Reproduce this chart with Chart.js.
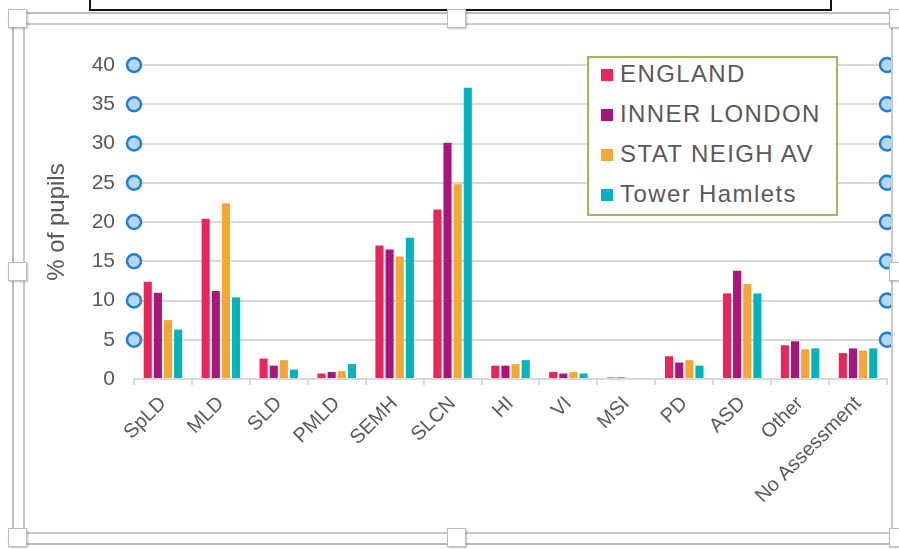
<!DOCTYPE html>
<html>
<head>
<meta charset="utf-8">
<script src="https://cdn.jsdelivr.net/npm/chart.js@4.4.0/dist/chart.umd.min.js"></script>
<style>
  body { margin:0; background:#fff; width:899px; height:549px; position:relative; overflow:hidden; font-family:"Liberation Sans", Arial, sans-serif; }
  .box { position:absolute; box-sizing:border-box; }
  #topbox { left:89px; top:-4px; width:743px; height:15px; border:2px solid #111; }
  #outer { left:12px; top:12px; width:895px; height:533px; border:2px solid #bdbdbd; }
  #inner { left:23px; top:23px; width:870px; height:511px; border:2px solid #c9c9c9; }
  #wrap { position:absolute; left:25px; top:25px; width:866px; height:506px; }
  .handle { position:absolute; width:19px; height:19px; box-sizing:border-box; background:#fff; border:1px solid #bcbcbc; box-shadow:1px 1px 2px rgba(0,0,0,0.25); }
  #legend { position:absolute; left:587px; top:56px; width:251px; height:160px; box-sizing:border-box; border:2px solid #9bbb59; background:#fff; }
  #legend div { position:absolute; left:12px; font-size:24px; color:#595959; letter-spacing:1.4px; line-height:24px; white-space:nowrap; }
  #legend span { display:inline-block; width:12px; height:12px; margin-right:7px; vertical-align:1px; }
</style>
</head>
<body>
<div class="box" id="topbox"></div>
<div class="box" id="outer"></div>
<div class="box" id="inner"></div>
<div id="wrap"><canvas id="myChart" width="866" height="506"></canvas></div>
<div class="handle" style="left:8px;top:9px"></div>
<div class="handle" style="left:447px;top:9px"></div>
<div class="handle" style="left:889px;top:9px"></div>
<div class="handle" style="left:8px;top:262px"></div>
<div class="handle" style="left:889px;top:262px"></div>
<div class="handle" style="left:8px;top:528px"></div>
<div class="handle" style="left:447px;top:528px"></div>
<div class="handle" style="left:889px;top:528px"></div>
<div id="legend"></div>
<script>
var categorias = ['SpLD', 'MLD', 'SLD', 'PMLD', 'SEMH', 'SLCN', 'HI', 'VI', 'MSI', 'PD', 'ASD', 'Other', 'No Assessment'];
var england      = [12.4, 20.4, 2.6, 0.7, 17.0, 21.6, 1.7, 0.9, 0.2, 2.9, 10.9, 4.3, 3.3];
var innerLondon  = [11.0, 11.2, 1.7, 0.9, 16.5, 30.1, 1.7, 0.7, 0.2, 2.1, 13.8, 4.8, 3.9];
var statNeigh    = [7.5, 22.4, 2.4, 1.0, 15.6, 24.8, 1.9, 0.9, 0, 2.4, 12.1, 3.8, 3.6];
var towerHamlets = [6.3, 10.4, 1.2, 1.9, 18.0, 37.1, 2.4, 0.7, 0, 1.7, 10.9, 3.9, 3.9];
var series = ['ENGLAND', 'INNER LONDON', 'STAT NEIGH AV', 'Tower Hamlets'];
var colores = ['#e8265a', '#a8167c', '#f5a733', '#00b3bf'];
var yTicks = [0, 5, 10, 15, 20, 25, 30, 35, 40];

// circulos azules en los bordes del area
var circulos = {
  id: 'circulos',
  afterDraw: function(chart) {
    var ctx = chart.ctx, area = chart.chartArea, y = chart.scales.y;
    ctx.save();
    ctx.lineWidth = 2.5;
    ctx.strokeStyle = '#1f7fd6';
    ctx.fillStyle = '#b5d8f2';
    yTicks.forEach(function(v) {
      if (v === 0) return;
      [area.left, area.right].forEach(function(x) {
        ctx.beginPath();
        ctx.arc(x, y.getPixelForValue(v), 7, 0, Math.PI * 2);
        ctx.fill();
        ctx.stroke();
      });
    });
    ctx.restore();
  }
};

var datos = [england, innerLondon, statNeigh, towerHamlets];
var ctx = document.getElementById('myChart');
var grafica = new Chart(ctx, {
  type: 'bar',
  data: {
    labels: categorias,
    datasets: series.map(function(s, i) {
      return { label: s, data: datos[i], backgroundColor: colores[i], borderWidth: 0,
               categoryPercentage: 0.7, barPercentage: 0.8 };
    })
  },
  options: {
    responsive: false,
    animation: false,
    layout: { padding: { top: 40, right: 4, left: 0, bottom: 0 } },
    plugins: { legend: { display: false }, tooltip: { enabled: false } },
    scales: {
      x: {
        afterFit: function(s) { s.height = 152; },
        grid: { display: true, drawOnChartArea: false, drawTicks: true, tickLength: 6, color: '#d9d9d9', lineWidth: 2 },
        border: { display: true, color: '#d9d9d9', width: 2 },
        ticks: { minRotation: 45, maxRotation: 45, autoSkip: false, padding: 7, color: '#595959',
                 font: { family: 'Liberation Sans', size: 20 } }
      },
      y: {
        min: 0, max: 40,
        afterFit: function(s) { s.width = 109; },
        afterBuildTicks: function(s) { s.ticks = yTicks.map(function(v) { return { value: v }; }); },
        grid: { color: '#d9d9d9', lineWidth: 2, drawTicks: false },
        border: { display: false },
        ticks: { padding: 19, color: '#595959', font: { family: 'Liberation Sans', size: 21 } },
        title: { display: true, text: '% of pupils', color: '#595959', padding: { top: 18, bottom: 0 },
                 font: { family: 'Liberation Sans', size: 24 } }
      }
    }
  },
  plugins: [circulos]
});

// leyenda html
var leg = document.getElementById('legend');
grafica.data.datasets.forEach(function(d, i) {
  var item = document.createElement('div');
  item.style.top = (4 + i * 40) + 'px';
  item.innerHTML = '<span style="background:' + d.backgroundColor + '"></span>' + d.label;
  leg.appendChild(item);
});
</script>
</body>
</html>
